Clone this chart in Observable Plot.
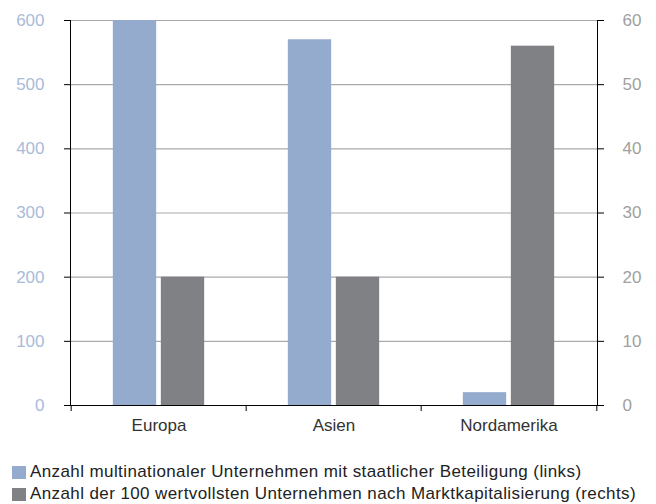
<!DOCTYPE html>
<html><head><meta charset="utf-8">
<script src="https://cdn.jsdelivr.net/npm/d3@7"></script>
<script src="https://cdn.jsdelivr.net/npm/@observablehq/plot@0.6"></script>
<style>
body{margin:0;background:#fff;font-family:"Liberation Sans",Arial,sans-serif;}
#legend{margin-top:21px;font-size:17px;color:#222;letter-spacing:0.4px;}
.row{display:flex;align-items:center;height:22px;padding-left:12px;}
.sw{width:14px;height:13px;margin-right:4px;flex:none;}
</style></head>
<body><div id="chart"></div><div id="legend"></div>
<script>
const regions = ["Europa", "Asien", "Nordamerika"];
const multinational = [600, 570, 20];      // links
const top100 = [20, 20, 56];               // rechts
const leftTicks = [0, 100, 200, 300, 400, 500, 600];
const rightTicks = [0, 10, 20, 30, 40, 50, 60];
const seriesNames = [
  "Anzahl multinationaler Unternehmen mit staatlicher Beteiligung (links)",
  "Anzahl der 100 wertvollsten Unternehmen nach Marktkapitalisierung (rechts)"
];
const colors = ["#95abcd", "#808184"];

const W = 656, H = 440, mL = 70, mR = 59;
const bw = (W - mL - mR) / regions.length;
const barW = 44, gap = 4;
const data = regions.map((r, i) => ({region: r, a: multinational[i], b: top100[i]}));
const ratio = 600 / 60;

const chart = Plot.plot({
  width: W, height: H,
  marginLeft: mL, marginRight: mR, marginTop: 20, marginBottom: 35,
  style: {fontFamily: "Liberation Sans, Arial, sans-serif", fontSize: "17px", background: "#fff"},
  x: {domain: regions, padding: 0, axis: null},
  y: {domain: [0, 600], axis: null},
  marks: [
    Plot.gridY(leftTicks, {stroke: "#aaaaaa", strokeOpacity: 1, strokeWidth: 1.2}),
    Plot.barY(data, {x: "region", y: "a", fill: colors[0],
      insetLeft: bw/2 - barW - gap/2, insetRight: bw/2 + gap/2}),
    Plot.barY(data, {x: "region", y: d => d.b * ratio, fill: colors[1],
      insetLeft: bw/2 + gap/2, insetRight: bw/2 - barW - gap/2}),
    Plot.axisY(leftTicks, {anchor: "left", label: null, tickSize: 6, tickPadding: 20, color: "#a9bbd9", stroke: "#000"}),
    Plot.axisY(rightTicks.map(d => d * ratio), {anchor: "right", label: null, tickSize: 6, tickPadding: 19, color: "#a0a0a0", stroke: "#000",
      tickFormat: d => d / ratio}),
    Plot.axisX({label: null, tickSize: 6, tickFormat: null, dx: -bw/2, stroke: "#000"}),
    Plot.axisX(["Nordamerika"], {label: null, tickSize: 6, tickFormat: null, dx: bw/2, stroke: "#000"}),
    Plot.axisX({label: null, tickSize: 0, tickPadding: 13, color: "#333", fill: "#333"}),
    Plot.frame({anchor: "left", stroke: "#000"}),
    Plot.frame({anchor: "right", stroke: "#000"}),
    Plot.ruleY([0], {stroke: "#000", insetLeft: -6, insetRight: -6})
  ]
});
document.getElementById("chart").appendChild(chart);

const lg = document.getElementById("legend");
seriesNames.forEach((n, i) => {
  const row = document.createElement("div"); row.className = "row";
  const sw = document.createElement("div"); sw.className = "sw"; sw.style.background = colors[i];
  const t = document.createElement("span"); t.textContent = n;
  row.appendChild(sw); row.appendChild(t); lg.appendChild(row);
});
</script></body></html>
